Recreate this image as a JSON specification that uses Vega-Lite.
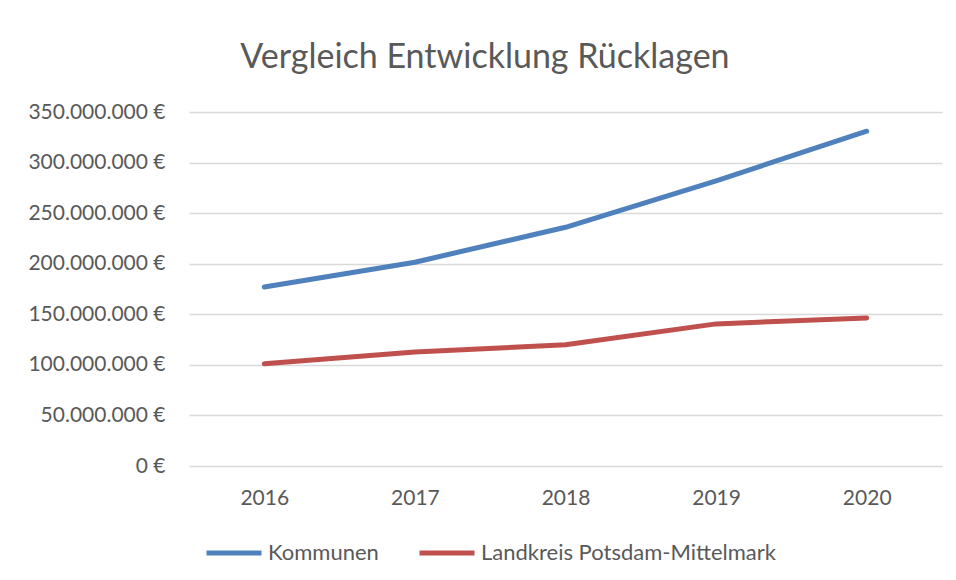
{
  "$schema": "https://vega.github.io/schema/vega-lite/v6.json",
  "autosize": "none",
  "width": 753,
  "height": 354,
  "padding": {"left": 189, "top": 112, "right": 14, "bottom": 114},
  "background": "white",
  "title": {
    "text": "Vergleich Entwicklung Rücklagen",
    "font": "Lato",
    "fontSize": 34,
    "fontWeight": "normal",
    "color": "#595959",
    "anchor": "middle",
    "frame": "bounds",
    "offset": 26
  },
  "data": {
    "values": [
      {"Jahr": "2016", "Reihe": "Kommunen", "Wert": 177000000},
      {"Jahr": "2017", "Reihe": "Kommunen", "Wert": 201500000},
      {"Jahr": "2018", "Reihe": "Kommunen", "Wert": 236000000},
      {"Jahr": "2019", "Reihe": "Kommunen", "Wert": 282000000},
      {"Jahr": "2020", "Reihe": "Kommunen", "Wert": 331000000},
      {"Jahr": "2016", "Reihe": "Landkreis Potsdam-Mittelmark", "Wert": 101000000},
      {"Jahr": "2017", "Reihe": "Landkreis Potsdam-Mittelmark", "Wert": 112700000},
      {"Jahr": "2018", "Reihe": "Landkreis Potsdam-Mittelmark", "Wert": 119800000},
      {"Jahr": "2019", "Reihe": "Landkreis Potsdam-Mittelmark", "Wert": 140500000},
      {"Jahr": "2020", "Reihe": "Landkreis Potsdam-Mittelmark", "Wert": 146300000}
    ]
  },
  "mark": {"type": "line", "strokeWidth": 5, "strokeCap": "round", "strokeJoin": "round"},
  "encoding": {
    "x": {
      "field": "Jahr",
      "type": "ordinal",
      "axis": {
        "title": null,
        "labelAngle": 0,
        "domain": false,
        "ticks": false,
        "labelFont": "Lato",
        "labelFontSize": 21,
        "labelColor": "#595959",
        "labelPadding": 21
      }
    },
    "y": {
      "field": "Wert",
      "type": "quantitative",
      "scale": {"domain": [0, 350000000], "nice": false},
      "axis": {
        "title": null,
        "values": [0, 50000000, 100000000, 150000000, 200000000, 250000000, 300000000, 350000000],
        "labelExpr": "replace(format(datum.value, ','), regexp(',', 'g'), '.') + ' €'",
        "domain": false,
        "ticks": false,
        "grid": true,
        "gridColor": "#D9D9D9",
        "gridWidth": 1.3,
        "labelFont": "Lato",
        "labelFontSize": 21,
        "labelColor": "#595959",
        "labelPadding": 24
      }
    },
    "color": {
      "field": "Reihe",
      "type": "nominal",
      "scale": {"domain": ["Kommunen", "Landkreis Potsdam-Mittelmark"], "range": ["#4F81BD", "#C0504D"]},
      "legend": {
        "title": null,
        "orient": "none",
        "direction": "horizontal",
        "legendX": 15,
        "legendY": 411,
        "symbolType": "stroke",
        "symbolSize": 3025,
        "symbolStrokeWidth": 5,
        "labelFont": "Lato",
        "labelFontSize": 22,
        "labelColor": "#595959",
        "labelOffset": 4,
        "labelLimit": 500,
        "columnPadding": 30
      }
    }
  },
  "config": {"view": {"stroke": null}}
}
